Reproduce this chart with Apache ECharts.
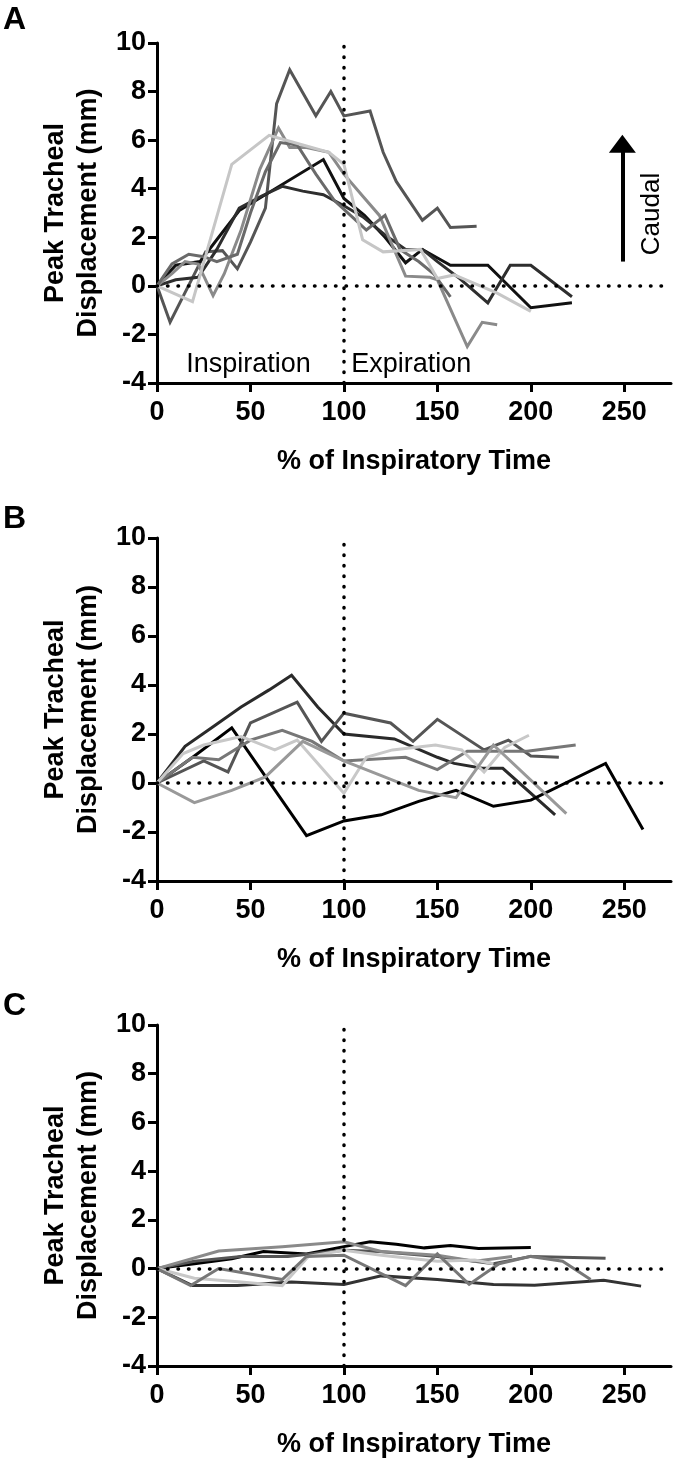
<!DOCTYPE html>
<html>
<head>
<meta charset="utf-8">
<script src="https://cdn.jsdelivr.net/npm/echarts@6/dist/echarts.min.js"></script>
<style>
html, body { margin: 0; padding: 0; background: #fff; }
#chart { width: 680px; height: 1459px; }
</style>
</head>
<body>
<div id="chart"></div>
<script>
// tick values
var xTicks = [0, 50, 100, 150, 200, 250];
var yTicks = [-4, -2, 0, 2, 4, 6, 8, 10];

// panel A  ([% of inspiratory time, displacement mm])
var a1 = [[0,0],[7,-1.5],[26,1.4],[35,1.45],[43,0.7],[50,1.8],[58,3.2],[64,7.5],[71,8.9],[85,7.0],[93,8.0],[100,7.0],[114,7.2],[121,5.5],[128,4.3],[142,2.7],[150,3.2],[157,2.4],[171,2.45]];
var a2 = [[0,0],[10,0.85],[23,1.0],[33,2.0],[44,3.1],[89,5.2],[100,3.6],[111,2.9],[122,2.0],[133,0.95],[142,1.5],[157,0.85],[177,0.85],[200,-0.9],[222,-0.7]];
var a3 = [[0,0],[10,0.25],[22,0.35],[32,1.5],[44,3.2],[56,3.7],[67,4.1],[78,3.9],[89,3.75],[100,3.3],[110,2.85],[122,2.1],[133,1.5],[142,1.5],[150,1.0],[162,0.3],[177,-0.7],[189,0.85],[200,0.85],[222,-0.45]];
var a4 = [[0,0],[8,0.5],[15,1.0],[22,0.9],[30,-0.4],[36,0.5],[45,2.3],[55,4.8],[65,6.5],[71,5.7],[80,5.7],[92,5.5],[100,4.6],[110,3.7],[119,2.9],[133,0.4],[146,0.35],[150,0.25],[166,-2.5],[174,-1.5],[182,-1.6]];
var a5 = [[0,0],[8,0.9],[17,1.3],[25,1.2],[32,1.0],[43,1.3],[50,3.0],[58,4.7],[66,5.9],[75,5.8],[85,4.6],[95,3.5],[105,2.8],[112,2.3],[122,2.9],[130,1.5],[140,1.0],[148,0.5],[157,-0.45]];
var a6 = [[0,0],[19,-0.65],[40,5.0],[60,6.2],[78,5.8],[92,5.5],[100,5.0],[110,1.9],[121,1.4],[141,1.5],[150,0.3],[159,0.45],[182,-0.3],[200,-1.05]];

// panel B
var b1 = [[0,0],[15,1.5],[30,2.3],[45,3.1],[60,3.8],[72,4.4],[86,3.1],[100,2.0],[127,1.8],[150,1.05],[159,0.8],[174,0.6],[185,0.6],[213,-1.3]];
var b2 = [[0,0],[20,1.1],[40,2.25],[80,-2.15],[100,-1.55],[120,-1.3],[140,-0.75],[160,-0.3],[180,-0.95],[200,-0.7],[240,0.8],[260,-1.9]];
var b3 = [[0,0],[25,0.9],[38,0.45],[50,2.45],[75,3.3],[88,1.7],[100,2.85],[125,2.45],[137,1.7],[150,2.6],[175,1.35],[188,1.75],[200,1.1],[215,1.05]];
var b4 = [[0,0],[19,1.05],[33,0.95],[50,1.75],[67,2.15],[83,1.7],[100,0.9],[133,1.05],[150,0.55],[166,1.3],[198,1.3],[224,1.55]];
var b5 = [[0,0],[14,1.2],[25,1.55],[45,1.9],[63,1.35],[75,1.75],[100,-0.42],[112,1.05],[126,1.35],[149,1.55],[163,1.35],[175,0.45],[186,1.45],[199,1.95]];
var b6 = [[0,0],[20,-0.8],[40,-0.3],[58,0.25],[78,1.7],[100,0.9],[120,0.3],[140,-0.3],[160,-0.6],[180,1.55],[219,-1.25]];

// panel C
var c1 = [[0,0],[20,0.2],[40,0.4],[57,0.7],[80,0.6],[100,0.9],[114,1.1],[128,1.0],[143,0.85],[157,0.95],[172,0.82],[200,0.86]];
var c2 = [[0,0],[19,-0.7],[43,-0.7],[72,-0.55],[100,-0.65],[120,-0.3],[150,-0.45],[180,-0.65],[202,-0.68],[239,-0.48],[259,-0.72]];
var c3 = [[0,0],[20,0.3],[45,0.5],[70,0.5],[100,0.75],[119,0.7],[150,0.5],[180,0.2],[200,0.5],[240,0.42]];
var c4 = [[0,0],[33,0.72],[67,0.9],[100,1.1],[120,0.7],[150,0.55],[170,0.3],[190,0.5]];
var c5 = [[0,0],[20,-0.4],[45,-0.55],[67,-0.7],[81,0.5],[100,0.75],[120,0.55],[150,0.3],[170,0.35],[180,0.2]];
var c6 = [[0,0],[18,-0.7],[33,0],[67,-0.45],[80,0.5],[100,0.55],[133,-0.7],[150,0.6],[167,-0.65],[183,0.2],[200,0.5],[217,0.3],[232,-0.45]];

var panelA = [a1, a2, a3, a4, a5, a6];
var panelB = [b1, b2, b3, b4, b5, b6];
var panelC = [c1, c2, c3, c4, c5, c6];
var coloursA = ['#555555', '#111111', '#2e2e2e', '#8a8a8a', '#6a6a6a', '#c6c6c6'];
var coloursB = ['#2a2a2a', '#000000', '#555555', '#777777', '#c8c8c8', '#999999'];
var coloursC = ['#000000', '#333333', '#555555', '#8a8a8a', '#c8c8c8', '#777777'];

var font = 'Liberation Sans, Arial, sans-serif';
var chart = echarts.init(document.getElementById('chart'), null, { renderer: 'canvas' });

var grids = [
	{ left: 157, right: 9, top: 43, height: 340 },
	{ left: 157, right: 9, top: 538, height: 343 },
	{ left: 157, right: 9, top: 1025, height: 342 }
];

function xAxisFor(i) {
	return {
		gridIndex: i, type: 'value', min: 0, max: 275, interval: 50,
		axisLine: { show: true, onZero: false, lineStyle: { color: '#000', width: 3 } },
		axisTick: { show: true, length: 9, customValues: xTicks, lineStyle: { color: '#000', width: 3 } },
		axisLabel: { customValues: xTicks, margin: 16, color: '#000', fontWeight: 'bold', fontSize: 27, fontFamily: font },
		splitLine: { show: false },
		name: '% of Inspiratory Time', nameLocation: 'middle', nameGap: 65,
		nameTextStyle: { color: '#000', fontWeight: 'bold', fontSize: 27, fontFamily: font }
	};
}

function yAxisFor(i) {
	return {
		gridIndex: i, type: 'value', min: -4, max: 10, interval: 2,
		axisLine: { show: true, onZero: false, lineStyle: { color: '#000', width: 3 } },
		axisTick: { show: true, length: 9, lineStyle: { color: '#000', width: 3 } },
		axisLabel: { margin: 11, color: '#000', fontWeight: 'bold', fontSize: 27, fontFamily: font },
		splitLine: { show: false },
		name: 'Peak Tracheal\nDisplacement (mm)', nameLocation: 'middle', nameGap: 52,
		nameTextStyle: { color: '#000', fontWeight: 'bold', fontSize: 27, lineHeight: 33, fontFamily: font, align: 'center' }
	};
}

var series = [];
// dotted reference lines (behind the data)
for (var g = 0; g < 3; g++) {
	series.push({
		type: 'line', xAxisIndex: g, yAxisIndex: g, data: [], silent: true, z: 1,
		markLine: {
			silent: true, symbol: ['none', 'none'], label: { show: false }, animation: false,
			lineStyle: { color: '#000', width: 3.5, type: [0.5, 10], cap: 'round' },
			data: [{ xAxis: 100 }, { yAxis: 0 }]
		}
	});
}

function addPanel(list, colours, g) {
	for (var i = 0; i < list.length; i++) {
		series.push({
			type: 'line', xAxisIndex: g, yAxisIndex: g, data: list[i],
			showSymbol: false, symbol: 'none', z: 3, animation: false,
			lineStyle: { color: colours[i], width: 3, join: 'miter' }
		});
	}
}
addPanel(panelA, coloursA, 0);
addPanel(panelB, coloursB, 1);
addPanel(panelC, coloursC, 2);

// caudal arrow + phase labels in panel A
series.push({
	type: 'line', xAxisIndex: 0, yAxisIndex: 0, data: [], silent: true, z: 4,
	markLine: {
		silent: true, animation: false, label: { show: false },
		symbol: ['none', 'triangle'], symbolSize: [27, 18],
		lineStyle: { color: '#000', width: 4, type: 'solid' },
		data: [[{ coord: [249, 1.0] }, { coord: [249, 5.85] }]]
	},
	markPoint: {
		silent: true, animation: false, symbol: 'rect', symbolSize: 1,
		itemStyle: { color: 'rgba(0,0,0,0)' },
		label: { show: true, position: 'inside', formatter: '{b}', color: '#000', fontSize: 27, fontFamily: font },
		data: [
			{ name: 'Inspiration', coord: [49, -3.25] },
			{ name: 'Expiration', coord: [136, -3.25] }
		]
	}
});

var letterStyle = { fill: '#000', font: 'bold 32px ' + font };
var option = {
	backgroundColor: '#fff',
	animation: false,
	grid: grids,
	xAxis: [xAxisFor(0), xAxisFor(1), xAxisFor(2)],
	yAxis: [yAxisFor(0), yAxisFor(1), yAxisFor(2)],
	series: series,
	graphic: [
		{ type: 'text', left: 3, top: 4, style: Object.assign({ text: 'A' }, letterStyle) },
		{ type: 'text', left: 3, top: 503, style: Object.assign({ text: 'B' }, letterStyle) },
		{ type: 'text', left: 3, top: 990, style: Object.assign({ text: 'C' }, letterStyle) },
		{ type: 'text', x: 652, y: 214, rotation: Math.PI / 2,
			style: { text: 'Caudal', fill: '#000', font: '26px ' + font, align: 'center', verticalAlign: 'middle' } }
	]
};
chart.setOption(option);
window.addEventListener('resize', function() {
	chart.resize();
});
</script>
</body>
</html>
